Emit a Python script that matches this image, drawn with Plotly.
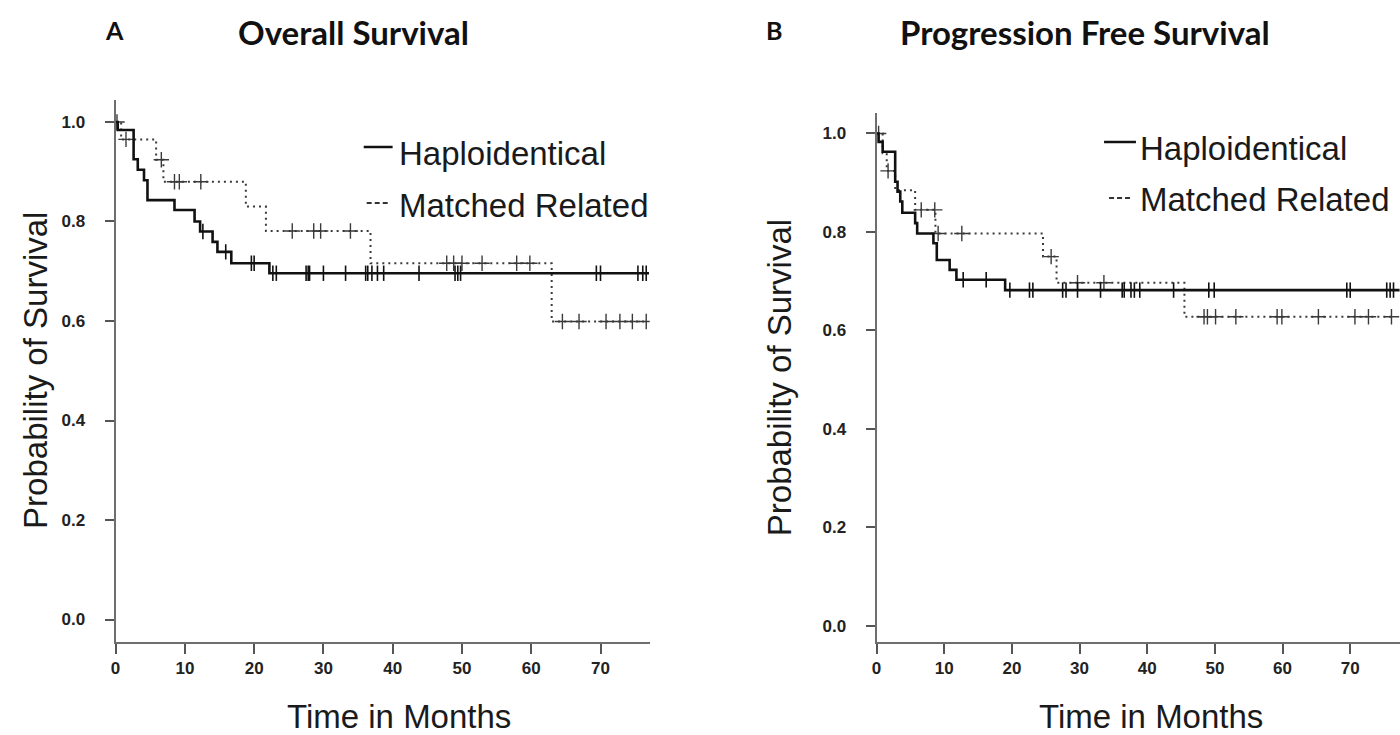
import numpy as np
import plotly.graph_objects as go

W, H = 1400, 735

# ---------------- Overall survival (panel A) ----------------
os_haplo_t = [0.3, 2.6, 3.2, 4.1, 4.6, 8.5, 11.4, 12.2, 14.0, 14.7, 16.7, 22.2]
os_haplo_s = [0.984, 0.925, 0.904, 0.883, 0.843, 0.823, 0.800, 0.780, 0.759, 0.739, 0.716, 0.696]
os_haplo_cens = [12.6, 15.9, 19.6, 20.0, 22.7, 23.2, 27.5, 27.8, 28.0, 30.0, 33.2,
                 36.1, 36.4, 37.0, 37.8, 38.7, 43.8, 49.0, 49.4, 49.8, 69.4, 70.0,
                 75.4, 76.1, 76.6]
os_haplo_end = 77.0

os_mr_t = [0.8, 5.85, 6.9, 18.8, 21.7, 36.8, 62.95]
os_mr_s = [0.965, 0.924, 0.880, 0.830, 0.781, 0.716, 0.599]
os_mr_cens = [0.2, 1.5, 6.6, 8.5, 9.2, 12.3, 25.5, 28.6, 29.6, 33.9, 47.8, 48.8,
              50.0, 52.9, 57.9, 59.8, 64.5, 66.9, 70.8, 72.8, 74.6, 76.6]
os_mr_end = 76.6

# ---------------- Progression free survival (panel B) ----------------
pfs_haplo_t = [0.3, 0.9, 2.75, 3.1, 3.5, 3.8, 5.7, 6.0, 8.4, 8.9, 10.8, 11.8, 19.0]
pfs_haplo_s = [0.983, 0.963, 0.902, 0.882, 0.862, 0.839, 0.818, 0.797, 0.777,
               0.743, 0.723, 0.703, 0.682]
pfs_haplo_cens = [12.8, 16.2, 19.7, 22.6, 23.1, 27.5, 28.0, 29.7, 33.1, 36.3, 36.6,
                  37.6, 38.1, 38.9, 43.9, 49.1, 49.9, 69.5, 70.0, 75.4, 75.9, 76.4]
pfs_haplo_end = 77.3

pfs_mr_t = [0.9, 1.5, 2.75, 5.7, 8.7, 24.6, 26.6, 45.5]
pfs_mr_s = [0.960, 0.924, 0.885, 0.845, 0.797, 0.750, 0.697, 0.628]
pfs_mr_cens = [0.3, 1.7, 6.6, 8.6, 9.1, 12.6, 25.8, 29.7, 33.6, 48.4, 48.9, 50.1,
               53.1, 59.2, 59.9, 65.3, 70.7, 72.7, 76.1]
pfs_mr_end = 76.1

y_ticks = [0.0, 0.2, 0.4, 0.6, 0.8, 1.0]
y_ticktext = ["0.0", "0.2", "0.4", "0.6", "0.8", "1.0"]
x_ticks = [0, 10, 20, 30, 40, 50, 60, 70]

SOLID = "#111111"
DOT = "#3a3a3a"
TICKFONT = dict(family="Liberation Sans, Arial", size=17, color="#222222", weight="bold")
BIGFONT = dict(family="Liberation Sans, Arial", size=33, color="#1a1a1a")
TITLEFONT = dict(family="Lato, Open Sans", size=33, color="#111111", weight="bold")


def km_level(times, levels, t):
    """Survival probability of a step curve at time t."""
    idx = np.searchsorted(np.asarray(times), t, side="right")
    return 1.0 if idx == 0 else levels[idx - 1]


def step_xy(times, levels, end):
    return [0.0] + list(times) + [end], [1.0] + list(levels) + [levels[-1]]


fig = go.Figure()


def add_curves(times, levels, cens, end, xa, ya, solid):
    x, y = step_xy(times, levels, end)
    line = dict(color=SOLID, width=2.6) if solid else dict(color=DOT, width=2, dash="2px,4px")
    fig.add_trace(go.Scatter(x=x, y=y, mode="lines", line_shape="hv", line=line,
                             xaxis=xa, yaxis=ya, showlegend=False, hoverinfo="skip"))
    cy = [km_level(times, levels, t) for t in cens]
    if solid:
        marker = dict(symbol="line-ns", size=11, line=dict(color=SOLID, width=1.6))
    else:
        marker = dict(symbol="cross-thin", size=11, line=dict(color=DOT, width=1.4))
    fig.add_trace(go.Scatter(x=cens, y=cy, mode="markers", marker=marker,
                             xaxis=xa, yaxis=ya, showlegend=False, hoverinfo="skip"))


add_curves(os_mr_t, os_mr_s, os_mr_cens, os_mr_end, "x", "y", False)
add_curves(os_haplo_t, os_haplo_s, os_haplo_cens, os_haplo_end, "x", "y", True)
add_curves(pfs_mr_t, pfs_mr_s, pfs_mr_cens, pfs_mr_end, "x2", "y2", False)
add_curves(pfs_haplo_t, pfs_haplo_s, pfs_haplo_cens, pfs_haplo_end, "x2", "y2", True)


def px(x):
    return x / W


def py(y):
    return 1 - y / H


axis_common = dict(showline=True, linecolor="#6e6e6e", linewidth=2, ticks="outside",
                   tickcolor="#555555", tickwidth=1.5, showgrid=False, zeroline=False,
                   tickfont=TICKFONT, fixedrange=True)

fig.update_layout(
    width=W, height=H, margin=dict(l=0, r=0, t=0, b=0),
    paper_bgcolor="white", plot_bgcolor="white",
    xaxis=dict(domain=[px(111), px(647)], range=[0, 77.1], tickvals=x_ticks,
               ticklen=10, anchor="y", **axis_common),
    yaxis=dict(domain=[py(642), py(100)], range=[-0.0452, 1.0442], tickvals=y_ticks,
               ticktext=y_ticktext, ticklen=9, ticklabelstandoff=16, anchor="x", **axis_common),
    xaxis2=dict(domain=[px(874.7), 1.0], range=[0, 77.36], tickvals=x_ticks,
                ticklen=10, anchor="y2", **axis_common),
    yaxis2=dict(domain=[py(642), py(113)], range=[-0.0325, 1.0416], tickvals=y_ticks,
                ticktext=y_ticktext, ticklen=9, ticklabelstandoff=16, anchor="x2", **axis_common),
)

shapes = []
annotations = []

# panel letters and titles
for txt, x, y in [("A", 110, 30), ("B", 772, 30)]:
    annotations.append(dict(text=txt, x=px(x), y=py(y), xref="paper", yref="paper",
                            showarrow=False, xanchor="center", yanchor="middle",
                            font=dict(family="Lato, Open Sans", size=25, color="#111", weight="bold")))
for txt, x, y in [("Overall Survival", 350, 32), ("Progression Free Survival", 1084, 32)]:
    annotations.append(dict(text=txt, x=px(x), y=py(y), xref="paper", yref="paper",
                            showarrow=False, xanchor="center", yanchor="middle", font=TITLEFONT))

# axis titles
for x, y in [(30, 370), (778, 378)]:
    annotations.append(dict(text="Probability of Survival", x=px(x), y=py(y), xref="paper",
                            yref="paper", showarrow=False, textangle=-90,
                            xanchor="center", yanchor="middle", font=BIGFONT))
for x, y in [(395, 716), (1150, 716)]:
    annotations.append(dict(text="Time in Months", x=px(x), y=py(y), xref="paper",
                            yref="paper", showarrow=False, xanchor="center",
                            yanchor="middle", font=BIGFONT))

# legends
legend_pos = [
    # (solid sample x0, x1, y), (dash sample x0, x1, y), text x, text y1, text y2
    ((360, 389, 147), (363, 386, 203), 393, 153, 206),
    ((1103, 1135, 142), (1108, 1132, 198), 1137, 148, 199),
]
for (sx0, sx1, sy), (dx0, dx1, dy), tx, ty1, ty2 in legend_pos:
    shapes.append(dict(type="line", xref="paper", yref="paper", x0=px(sx0), x1=px(sx1),
                       y0=py(sy), y1=py(sy), line=dict(color=SOLID, width=2.5)))
    shapes.append(dict(type="line", xref="paper", yref="paper", x0=px(dx0), x1=px(dx1),
                       y0=py(dy), y1=py(dy), line=dict(color="#333", width=2, dash="5px,3px")))
    annotations.append(dict(text="Haploidentical", x=px(tx), y=py(ty1), xref="paper",
                            yref="paper", showarrow=False, xanchor="left",
                            yanchor="middle", font=BIGFONT))
    annotations.append(dict(text="Matched Related", x=px(tx), y=py(ty2), xref="paper",
                            yref="paper", showarrow=False, xanchor="left",
                            yanchor="middle", font=BIGFONT))

fig.update_layout(shapes=shapes, annotations=annotations)

fig.write_html("out.html")
